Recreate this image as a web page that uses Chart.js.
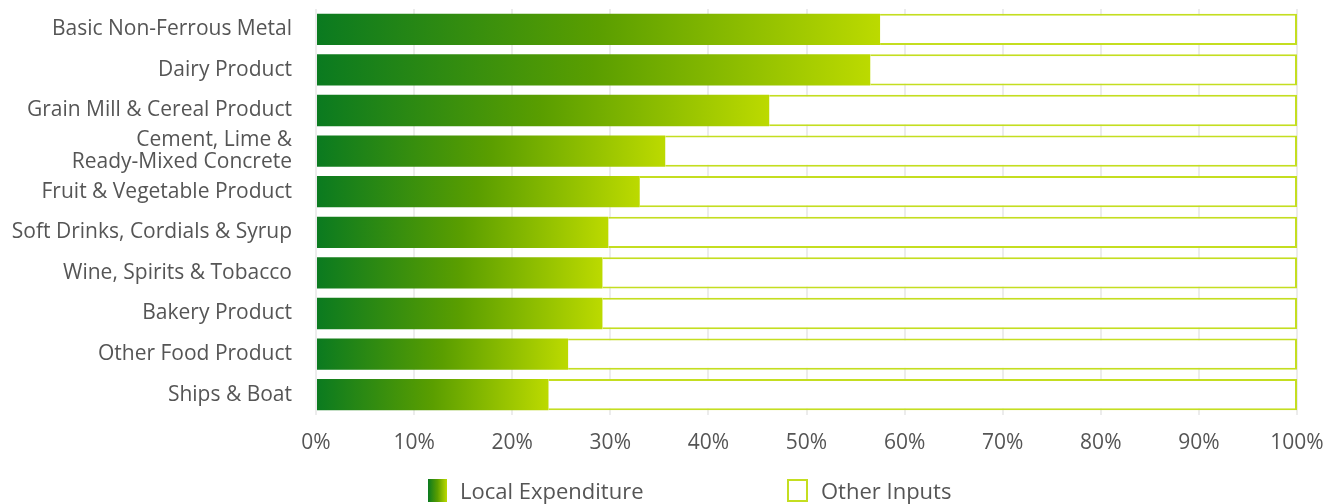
<!DOCTYPE html>
<html lang="en">
<head>
<meta charset="UTF-8">
<script src="https://cdn.jsdelivr.net/npm/chart.js"></script>
<style>
body { margin: 0; background: #fff; font-family: "Open Sans", sans-serif; }
.wrap { position: relative; width: 1335px; height: 504px; }
.legend { position: absolute; top: 477px; left: 0; width: 1335px; height: 27px; }
.legend .item { position: absolute; top: 0; display: flex; align-items: center; color: #555; font-size: 22px; line-height: 27px; }
.legend .box { width: 19px; height: 23px; margin-right: 13px; box-sizing: border-box; }
.box.local { background: linear-gradient(to right, #0a7a20, #5a9e00 50%, #bcda00); }
.box.other { background: #fff; border: 2px solid #c4de20; width: 21px; }
</style>
</head>
<body>
<div class="wrap">
  <canvas id="chart" width="1335" height="504"></canvas>
  <div class="legend">
    <div class="item" style="left:428px"><div class="box local"></div>Local Expenditure</div>
    <div class="item" style="left:787px"><div class="box other"></div>Other Inputs</div>
  </div>
</div>
<script>
const industries = [
  'Basic Non-Ferrous Metal',
  'Dairy Product',
  'Grain Mill & Cereal Product',
  ['Cement, Lime &', 'Ready-Mixed Concrete'],
  'Fruit & Vegetable Product',
  'Soft Drinks, Cordials & Syrup',
  'Wine, Spirits & Tobacco',
  'Bakery Product',
  'Other Food Product',
  'Ships & Boat'
];
const localExpenditure = [57.5, 56.5, 46.2, 35.6, 33.0, 29.8, 29.2, 29.2, 25.7, 23.7];
const otherInputs = localExpenditure.map(v => 100 - v);

// each green bar fades from dark green at 0% to lime at its own end
function barGradient(ctx) {
  const chart = ctx.chart;
  if (!chart.chartArea || ctx.type !== 'data') return '#5a9e00';
  const x = chart.scales.x;
  const x0 = x.getPixelForValue(0);
  const x1 = x.getPixelForValue(ctx.parsed.x);
  const g = chart.ctx.createLinearGradient(x0, 0, x1, 0);
  g.addColorStop(0, '#0a7a20');
  g.addColorStop(0.5, '#5a9e00');
  g.addColorStop(1, '#bcda00');
  return g;
}

const font = { family: '"Open Sans", sans-serif', size: 21 };

new Chart(document.getElementById('chart'), {
  type: 'bar',
  data: {
    labels: industries,
    datasets: [
      {
        label: 'Local Expenditure',
        data: localExpenditure,
        backgroundColor: barGradient,
        borderWidth: 0
      },
      {
        label: 'Other Inputs',
        data: otherInputs,
        backgroundColor: '#ffffff',
        borderColor: '#c4de20',
        borderWidth: 2,
        borderSkipped: 'start'
      }
    ]
  },
  options: {
    indexAxis: 'y',
    responsive: false,
    animation: false,
    barPercentage: 0.77,
    categoryPercentage: 1,
    layout: { padding: { top: 9, right: 38, bottom: 44, left: 0 } },
    plugins: { legend: { display: false }, tooltip: { enabled: false } },
    scales: {
      x: {
        stacked: true,
        min: 0,
        max: 100,
        ticks: { stepSize: 10, callback: v => v + '%', color: '#555', font: font, padding: 15 },
        grid: { color: '#ececec', lineWidth: 2, drawTicks: false },
        border: { display: false },
        afterFit: s => { s.height = 45; s.paddingRight = 0; }
      },
      y: {
        stacked: true,
        ticks: { autoSkip: false, color: '#555', font: Object.assign({ lineHeight: 1.05 }, font), padding: 16 },
        grid: { display: false },
        border: { display: false },
        afterFit: s => { s.width = 316; s.paddingTop = 0; s.paddingBottom = 0; }
      }
    }
  }
});
</script>
</body>
</html>
